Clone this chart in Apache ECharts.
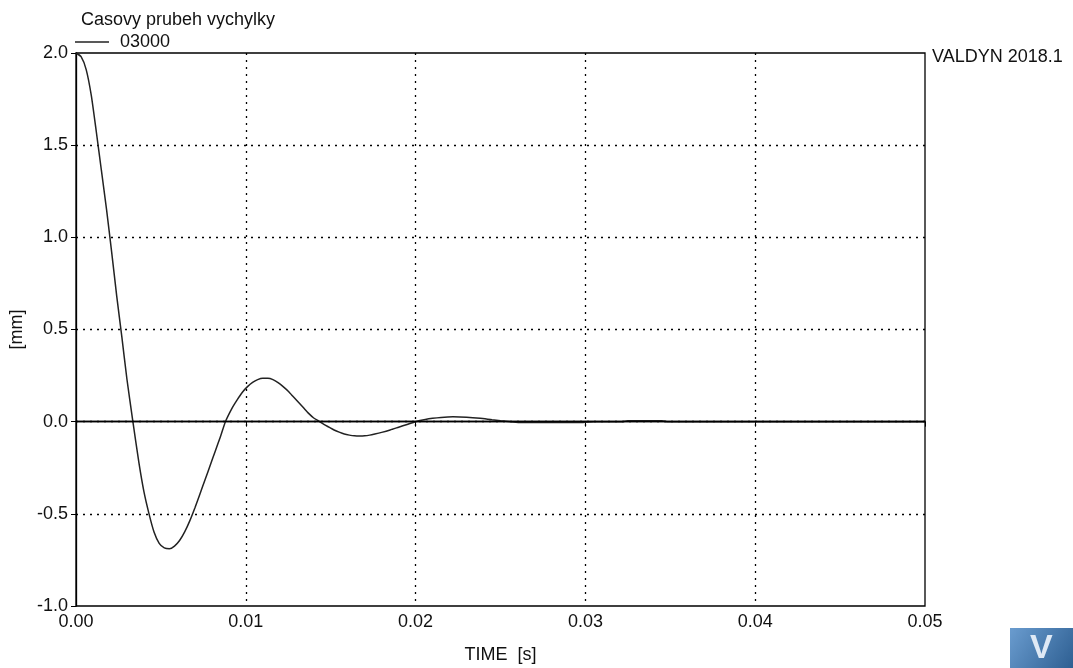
<!DOCTYPE html>
<html>
<head>
<meta charset="utf-8">
<script src="https://cdn.jsdelivr.net/npm/echarts@6/dist/echarts.min.js"></script>
<style>html,body{margin:0;padding:0;background:#fff}#c{width:1073px;height:668px}</style>
</head>
<body>
<div id="c"></div>
<script>
const titleText = 'Casovy prubeh vychylky';
const seriesName = '03000';
const xTicks = [0, 0.01, 0.02, 0.03, 0.04, 0.05];
const yTicks = [-1.0, -0.5, 0.0, 0.5, 1.0, 1.5, 2.0];
const time = [0, 0.0003, 0.0006, 0.0009, 0.0012, 0.0015, 0.0018, 0.0021, 0.0024, 0.0027, 0.0030, 0.00335,
  0.0037, 0.0040, 0.0043, 0.0046, 0.0049, 0.0052, 0.0055, 0.0058, 0.0061, 0.0064, 0.0067, 0.0070,
  0.0073, 0.0076, 0.0079, 0.0082, 0.0085, 0.0088, 0.0092, 0.0095, 0.0098, 0.0101, 0.0104, 0.0107,
  0.0110, 0.0113, 0.0116, 0.0119, 0.0122, 0.0125, 0.0128, 0.0131, 0.0134, 0.0137, 0.0140, 0.0143,
  0.0146, 0.0149, 0.0152, 0.0155, 0.0158, 0.0161, 0.0164, 0.0167, 0.0170, 0.0173, 0.0176, 0.0180,
  0.0185, 0.0190, 0.0195, 0.0200, 0.0205, 0.0210, 0.0215, 0.0222, 0.0230, 0.0238, 0.0245, 0.0250,
  0.0256, 0.0262, 0.0298, 0.0305, 0.0322, 0.0325, 0.0345, 0.0348, 0.0500];
const displacement = [2.0, 1.98, 1.91, 1.77, 1.57, 1.36, 1.15, 0.92, 0.68, 0.46, 0.23, 0.0,
  -0.22, -0.38, -0.50, -0.60, -0.66, -0.685, -0.69, -0.675, -0.645, -0.598, -0.538, -0.468,
  -0.392, -0.315, -0.238, -0.16, -0.083, 0.0, 0.075, 0.12, 0.16, 0.19, 0.213, 0.228,
  0.235, 0.235, 0.228, 0.212, 0.19, 0.165, 0.135, 0.105, 0.075, 0.045, 0.02, 0.003,
  -0.015, -0.03, -0.045, -0.057, -0.067, -0.073, -0.077, -0.078, -0.077, -0.073, -0.067, -0.058,
  -0.045, -0.03, -0.015, 0.0, 0.01, 0.018, 0.023, 0.026, 0.024, 0.018, 0.01, 0.005,
  0.0, -0.005, -0.005, 0.0, 0.0, 0.005, 0.005, 0.0, 0.0];

const data = time.map((t, i) => [t, displacement[i]]);
const font = 'Liberation Sans, Arial, sans-serif';
const fs = 18;
const chart = echarts.init(document.getElementById('c'));
chart.setOption({
  animation: false,
  backgroundColor: '#fff',
  title: { text: titleText, left: 76, top: 6, textStyle: { fontFamily: font, fontSize: fs, fontWeight: 'normal', color: '#111' } },
  legend: { data: [seriesName], left: 70, top: 28, icon: 'rect', itemWidth: 34, itemHeight: 1.4, itemGap: 5,
    itemStyle: { color: '#222' },
    textStyle: { fontFamily: font, fontSize: fs, color: '#111', padding: [0, 0, 0, 6] } },
  grid: { left: 76, right: 148, top: 53, bottom: 62, outerBoundsMode: 'none', containLabel: false,
    show: true, borderColor: '#000', borderWidth: 1.3, backgroundColor: 'transparent' },
  xAxis: {
    type: 'value', min: 0, max: 0.05, interval: 0.01,
    name: 'TIME  [s]', nameLocation: 'middle', nameGap: 40,
    nameTextStyle: { fontFamily: font, fontSize: fs, color: '#111' },
    axisLine: { show: true, lineStyle: { color: '#000', width: 1.3 } },
    axisTick: { show: true, length: 5, lineStyle: { color: '#000' } },
    axisLabel: { fontFamily: font, fontSize: fs, color: '#111', margin: 7, formatter: v => v.toFixed(2) },
    splitLine: { show: true, showMinLine: false, showMaxLine: false, lineStyle: { color: '#000', type: [2, 5], width: 1.3 } }
  },
  yAxis: {
    type: 'value', min: -1.0, max: 2.0, interval: 0.5,
    name: '[mm]', nameLocation: 'middle', nameGap: 48, nameRotate: 90,
    nameTextStyle: { fontFamily: font, fontSize: fs, color: '#111' },
    axisLine: { show: true, lineStyle: { color: '#000', width: 1.3 } },
    axisTick: { show: true, length: 5, lineStyle: { color: '#000' } },
    axisLabel: { fontFamily: font, fontSize: fs, color: '#111', margin: 8, formatter: v => v.toFixed(1) },
    splitLine: { show: true, showMinLine: false, showMaxLine: false, lineStyle: { color: '#000', type: [2, 5], width: 1.3 } }
  },
  graphic: [
    { type: 'text', left: 932, top: 48, style: { text: 'VALDYN 2018.1', fontFamily: font, fontSize: fs, fill: '#111' } },
    { type: 'rect', left: 1010, top: 628, shape: { width: 63, height: 40 },
      style: { fill: new echarts.graphic.LinearGradient(0, 0, 1, 1, [{ offset: 0, color: '#6a9ccf' }, { offset: 1, color: '#2e5f92' }]) } },
    { type: 'text', left: 1030, top: 632, style: { text: 'V', fontFamily: font, fontSize: 34, fontWeight: 'bold', fill: '#dfe9f5' } }
  ],
  series: [{
    name: seriesName, type: 'line', data: data, symbol: 'none', smooth: 0.2,
    lineStyle: { color: '#222', width: 1.5 }, itemStyle: { color: '#222' },
    markLine: { silent: true, symbol: 'none', label: { show: false },
      lineStyle: { color: '#000', type: 'solid', width: 1.3 }, data: [{ yAxis: 0 }] }
  }]
});
</script>
</body>
</html>
